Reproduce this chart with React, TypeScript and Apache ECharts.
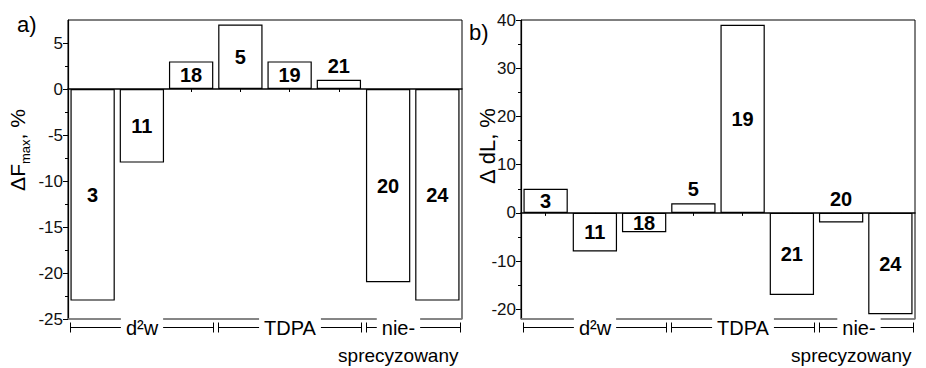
import React, { useEffect, useRef } from "react";
import * as echarts from "echarts";

const categories = ["3", "11", "18", "5", "19", "21", "20", "24"];
const forceChange = [-23, -8, 3, 7, 3, 1, -21, -23];
const lengthChange = [5, -8, -4, 2, 39, -17, -2, -21];
const leftMajorTicks = [-25, -20, -15, -10, -5, 0, 5];
const leftMinorTicks = [-22.5, -17.5, -12.5, -7.5, -2.5, 2.5];
const rightMajorTicks = [-20, -10, 0, 10, 20, 30, 40];
const rightMinorTicks = [-15, -5, 5, 15, 25, 35];
const groups = [
  { label: "d²w", from: 0, to: 2 },
  { label: "TDPA", from: 3, to: 5 },
  { label: "nie-", sub: "sprecyzowany", from: 6, to: 7 },
];

const FONT = "'Liberation Sans', Arial, Helvetica, sans-serif";
const LEFT_MIN = -25;
const LEFT_MAX = 7.5;
const RIGHT_MIN = -22;
const RIGHT_MAX = 40;

function yAxes(gridIndex: number, min: number, max: number, major: number[], minor: number[]) {
  return [
    {
      type: "value",
      gridIndex,
      min,
      max,
      position: "left",
      splitLine: { show: false },
      axisLine: { show: true, onZero: false, lineStyle: { color: "#000", width: 1.2 } },
      axisTick: { show: true, customValues: major, length: 5, lineStyle: { color: "#000", width: 1 } },
      axisLabel: { show: true, customValues: major, fontSize: 17, color: "#111", fontFamily: FONT, margin: 5 },
    },
    {
      type: "value",
      gridIndex,
      min,
      max,
      position: "left",
      splitLine: { show: false },
      axisLine: { show: false },
      axisTick: { show: true, customValues: minor, length: 3, lineStyle: { color: "#000", width: 1 } },
      axisLabel: { show: false },
    },
  ];
}

function xAxes(gridIndex: number) {
  return [
    {
      type: "category",
      gridIndex,
      data: categories,
      position: "bottom",
      axisLine: { show: true, onZero: true, lineStyle: { color: "#000", width: 1.5 } },
      axisTick: { show: true, alignWithLabel: true, length: 3, lineStyle: { color: "#000" } },
      axisLabel: { show: false },
      splitLine: { show: false },
    },
    {
      type: "category",
      gridIndex,
      data: categories,
      position: "bottom",
      axisLine: { show: true, onZero: false, lineStyle: { color: "#888", width: 1.5 } },
      axisTick: { show: false },
      axisLabel: { show: false },
      splitLine: { show: false },
    },
  ];
}

function barSeries(values: number[], xAxisIndex: number, yAxisIndex: number) {
  return {
    type: "bar",
    xAxisIndex,
    yAxisIndex,
    barCategoryGap: "10%",
    data: values.map((v) => ({
      value: v,
      label: { position: Math.abs(v) <= 2 ? "top" : "inside" },
    })),
    itemStyle: { color: "#fff", borderColor: "#000", borderWidth: 1.2 },
    label: {
      show: true,
      formatter: (p: any) => categories[p.dataIndex],
      fontFamily: FONT,
      fontWeight: "bold",
      fontSize: 20,
      color: "#000",
      distance: 4,
    },
  };
}

function bracketGraphics(chart: any, xAxisIndex: number, yAxisIndex: number, yMin: number, nieFrac: number) {
  const c0 = chart.convertToPixel({ xAxisIndex }, 0);
  const c1 = chart.convertToPixel({ xAxisIndex }, 1);
  const band = c1 - c0;
  const half = band * 0.45;
  const yBottom = chart.convertToPixel({ yAxisIndex }, yMin);
  const y = Math.round(yBottom + 8) + 0.5;
  const els: any[] = [];
  const lineStyle = { stroke: "#000", lineWidth: 1 };
  groups.forEach((g) => {
    const s = Math.round(chart.convertToPixel({ xAxisIndex }, g.from) - half) + 0.5;
    const e = Math.round(chart.convertToPixel({ xAxisIndex }, g.to) + half) + 0.5;
    els.push({ type: "line", shape: { x1: s, y1: y, x2: e, y2: y }, style: lineStyle, z: 10 });
    els.push({ type: "line", shape: { x1: s, y1: y - 5, x2: s, y2: y + 5 }, style: lineStyle, z: 10 });
    els.push({ type: "line", shape: { x1: e, y1: y - 5, x2: e, y2: y + 5 }, style: lineStyle, z: 10 });
    const tx = g.sub ? s + (e - s) * nieFrac : (s + e) / 2;
    els.push({
      type: "text",
      x: tx,
      y,
      z: 11,
      style: {
        text: g.label,
        font: `20px ${FONT}`,
        fill: "#000",
        align: "center",
        verticalAlign: "middle",
        backgroundColor: "#fff",
        padding: [0, 5],
      },
    });
    if (g.sub) {
      els.push({
        type: "text",
        x: e - 2,
        y: y + 28,
        z: 11,
        style: { text: g.sub, font: `19px ${FONT}`, fill: "#000", align: "right", verticalAlign: "middle" },
      });
    }
  });
  return els;
}

export default function App() {
  const ref = useRef<HTMLDivElement>(null);
  useEffect(() => {
    document.body.style.margin = "0";
    const chart = echarts.init(ref.current!, null, { renderer: "svg" });
    chart.setOption({
      animation: false,
      backgroundColor: "#fff",
      grid: [
        { left: 68, top: 20, width: 394, height: 299, show: true, borderColor: "#000", borderWidth: 1 },
        { left: 521, top: 20, width: 394, height: 299, show: true, borderColor: "#000", borderWidth: 1 },
      ],
      xAxis: [...xAxes(0), ...xAxes(1)],
      yAxis: [
        ...yAxes(0, LEFT_MIN, LEFT_MAX, leftMajorTicks, leftMinorTicks),
        ...yAxes(1, RIGHT_MIN, RIGHT_MAX, rightMajorTicks, rightMinorTicks),
      ],
      series: [barSeries(forceChange, 0, 0), barSeries(lengthChange, 2, 2)],
    });
    const titles: any[] = [
      { type: "text", x: 17, y: 24, style: { text: "a)", font: `22px ${FONT}`, fill: "#000", align: "left", verticalAlign: "middle" } },
      { type: "text", x: 469, y: 32, style: { text: "b)", font: `22px ${FONT}`, fill: "#000", align: "left", verticalAlign: "middle" } },
      {
        type: "text",
        x: 17,
        y: 150,
        rotation: Math.PI / 2,
        style: {
          text: "{n|ΔF}{s|max}{n|, %}",
          align: "center",
          verticalAlign: "middle",
          rich: {
            n: { fontFamily: FONT, fontSize: 21, lineHeight: 30, fill: "#000", color: "#000" },
            s: { fontFamily: FONT, fontSize: 13, lineHeight: 13, verticalAlign: "bottom", fill: "#000", color: "#000" },
          },
        },
      },
      {
        type: "text",
        x: 487,
        y: 146,
        rotation: Math.PI / 2,
        style: { text: "Δ dL, %", font: `22px ${FONT}`, fill: "#000", align: "center", verticalAlign: "middle" },
      },
    ];
    chart.setOption({
      graphic: [
        ...titles,
        ...bracketGraphics(chart, 0, 0, LEFT_MIN, 0.34),
        ...bracketGraphics(chart, 2, 2, RIGHT_MIN, 0.42),
      ],
    });
    return () => chart.dispose();
  }, []);
  return <div ref={ref} style={{ position: "fixed", left: 0, top: 0, width: 926, height: 368 }} />;
}
